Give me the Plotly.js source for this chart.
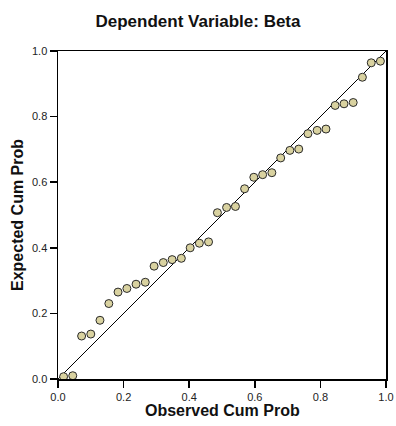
<!DOCTYPE html>
<html>
<head>
<meta charset="utf-8">
<script src="https://cdn.plot.ly/plotly-3.0.1.min.js"></script>
<style>html,body{margin:0;padding:0;background:#fff;}#chart{width:396px;height:426px;}</style>
</head>
<body>
<div id="chart"></div>
<script>
var observedCumProb = [0.017, 0.045, 0.072, 0.100, 0.128, 0.155, 0.183, 0.210, 0.238, 0.266,
  0.293, 0.321, 0.348, 0.376, 0.403, 0.431, 0.459, 0.486, 0.514, 0.541,
  0.569, 0.597, 0.624, 0.652, 0.679, 0.707, 0.734, 0.762, 0.790, 0.817,
  0.845, 0.872, 0.900, 0.928, 0.955, 0.983];
var expectedCumProb = [0.007, 0.010, 0.131, 0.137, 0.179, 0.230, 0.265, 0.276, 0.289, 0.295,
  0.344, 0.355, 0.364, 0.368, 0.400, 0.414, 0.418, 0.507, 0.523, 0.526,
  0.580, 0.615, 0.623, 0.629, 0.674, 0.697, 0.701, 0.748, 0.758, 0.762,
  0.834, 0.839, 0.843, 0.920, 0.964, 0.969];
var refLineX = [0, 1];
var refLineY = [0, 1];
var tickVals = [0, 0.2, 0.4, 0.6, 0.8, 1.0];
var tickText = ["0.0", "0.2", "0.4", "0.6", "0.8", "1.0"];

var font = "Liberation Sans, Arial, sans-serif";
var traces = [
  {x: refLineX, y: refLineY, mode: "lines", line: {color: "#000", width: 1}, hoverinfo: "skip"},
  {x: observedCumProb, y: expectedCumProb, mode: "markers",
   marker: {size: 8, color: "#d9d2a0", line: {color: "#2a2a2a", width: 1}}}
];
var axisCommon = {
  range: [0, 1], tickvals: tickVals, ticktext: tickText,
  ticks: "outside", ticklen: 7, tickwidth: 1.5, tickcolor: "#000",
  showline: true, linecolor: "#000", linewidth: 1.5, mirror: true,
  showgrid: false, zeroline: false,
  tickfont: {family: font, size: 11, color: "#222"}
};
var layout = {
  width: 396, height: 426,
  margin: {l: 58, r: 10, t: 51, b: 47},
  paper_bgcolor: "#fff", plot_bgcolor: "#fff",
  showlegend: false,
  title: {text: "<b>Dependent Variable: Beta</b>", x: 0.5, xref: "container", y: 0.95, yref: "container", yanchor: "middle",
          font: {family: font, size: 17, color: "#111"}},
  xaxis: Object.assign({}, axisCommon),
  yaxis: Object.assign({}, axisCommon, {
    title: {text: "<b>Expected Cum Prob</b>", font: {family: font, size: 16, color: "#111"}, standoff: 4}
  }),
  annotations: [{
    text: "<b>Observed Cum Prob</b>", xref: "paper", yref: "paper", x: 0.5, y: 0,
    xanchor: "center", yanchor: "top", yshift: -22, showarrow: false, borderpad: 0,
    font: {family: font, size: 16, color: "#111"}
  }]
};
Plotly.newPlot("chart", traces, layout, {displayModeBar: false, staticPlot: true});
</script>
</body>
</html>
